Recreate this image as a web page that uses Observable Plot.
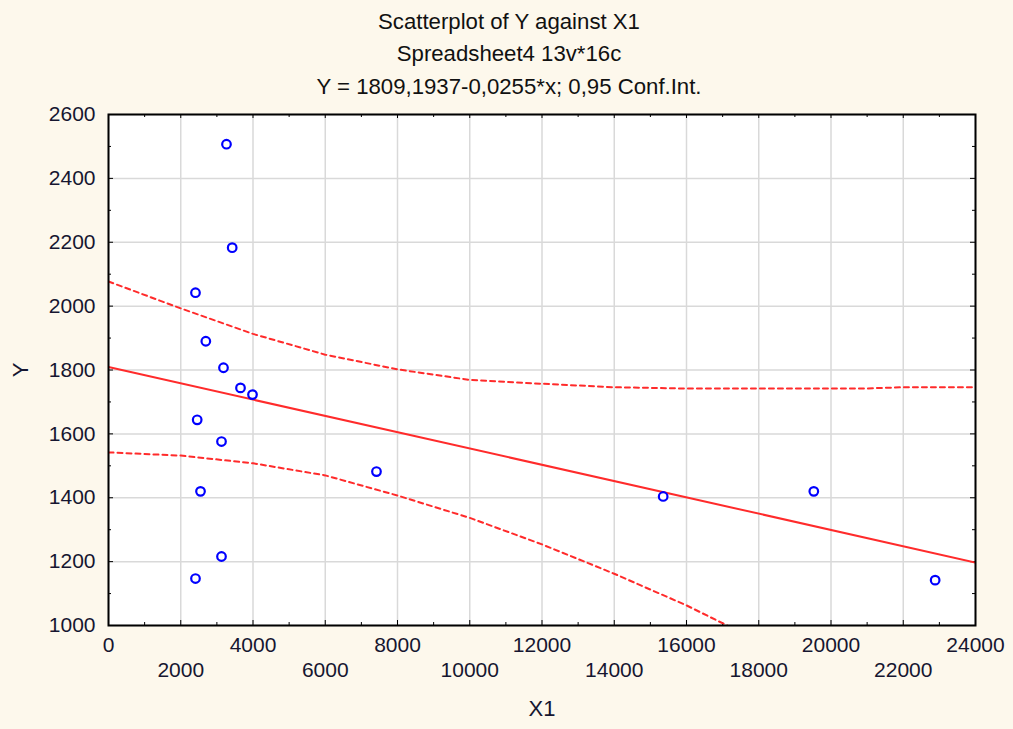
<!DOCTYPE html>
<html>
<head>
<meta charset="utf-8">
<script src="https://cdn.jsdelivr.net/npm/d3@7"></script>
<script src="https://cdn.jsdelivr.net/npm/@observablehq/plot@0.6"></script>
<style>
  html, body { margin: 0; padding: 0; background: #fdf8ec; }
  #chart svg { display: block; }
</style>
</head>
<body>
<div id="chart"></div>
<script>
// --- data ---
const xValues = [3266, 3424, 2408, 2694, 3183, 3654, 3986, 2455, 3128, 2547, 3128, 2408, 7418, 15354, 19524, 22883];
const yValues = [2507, 2183, 2042, 1890, 1807, 1744, 1723, 1644, 1576, 1420, 1216, 1147, 1482, 1404, 1420, 1142];

const fitX = [0, 24000];
const fitY = [1809.19, 1197.19];

const upperX = [0, 2000, 4000, 6000, 8000, 10000, 11800, 12000, 14000, 16000, 18000, 20000, 20900, 22000, 24000];
const upperY = [2077, 1993, 1913, 1848, 1802, 1769, 1758, 1757, 1746, 1742, 1742, 1742, 1742, 1746, 1746];

const lowerX = [0, 2000, 4000, 6000, 8000, 10000, 12000, 14000, 16000, 17125];
const lowerY = [1542, 1532, 1508, 1470, 1407, 1337, 1254, 1162, 1063, 1000];

const xMajor = [0, 2000, 4000, 6000, 8000, 10000, 12000, 14000, 16000, 18000, 20000, 22000, 24000];
const xMinor = [1000, 3000, 5000, 7000, 9000, 11000, 13000, 15000, 17000, 19000, 21000, 23000];
const xLabelsRow1 = [0, 4000, 8000, 12000, 16000, 20000, 24000];
const xLabelsRow2 = [2000, 6000, 10000, 14000, 18000, 22000];
const yMajor = [1000, 1200, 1400, 1600, 1800, 2000, 2200, 2400, 2600];
const yMinor = [1100, 1300, 1500, 1700, 1900, 2100, 2300, 2500];

const titleLines = ["Scatterplot of Y against X1", "Spreadsheet4 13v*16c", "Y = 1809,1937-0,0255*x; 0,95 Conf.Int."];

// --- build ---
const points = xValues.map((x, i) => ({x, y: yValues[i]}));
const fit = fitX.map((x, i) => ({x, y: fitY[i]}));
const upper = upperX.map((x, i) => ({x, y: upperY[i]}));
const lower = lowerX.map((x, i) => ({x, y: lowerY[i]}));

const W = 1013, H = 729, mT = 114, mB = 104, mL = 108, mR = 38;
const plotH = H - mT - mB, plotW = W - mL - mR;
const fmt = d => String(d);
const tickColor = "#161630";
const red = "#ff2b2b";
const titleDx = -33;

const chart = Plot.plot({
  width: W, height: H,
  marginTop: mT, marginBottom: mB, marginLeft: mL, marginRight: mR,
  x: {domain: [0, 24000], axis: null},
  y: {domain: [1000, 2600], axis: null},
  style: {fontFamily: "'Liberation Sans', Arial, sans-serif", background: "#fdf8ec", overflow: "visible"},
  marks: [
    Plot.frame({fill: "white", stroke: null}),
    Plot.gridX(xMajor, {stroke: "#d9d9d9", strokeOpacity: 1, strokeWidth: 1.5}),
    Plot.gridY(yMajor, {stroke: "#d9d9d9", strokeOpacity: 1, strokeWidth: 1.5}),
    // ticks on all four sides (inward)
    Plot.tickX(xMajor, {x: d => d, insetTop: plotH - 5, stroke: "#000"}),
    Plot.tickX(xMinor, {x: d => d, insetTop: plotH - 3, stroke: "#000"}),
    Plot.tickX(xMajor, {x: d => d, insetBottom: plotH - 4, stroke: "#000"}),
    Plot.tickX(xMinor, {x: d => d, insetBottom: plotH - 3, stroke: "#000"}),
    Plot.tickY(yMajor, {y: d => d, insetRight: plotW - 5, stroke: "#000"}),
    Plot.tickY(yMinor, {y: d => d, insetRight: plotW - 3, stroke: "#000"}),
    Plot.tickY(yMajor, {y: d => d, insetLeft: plotW - 5, stroke: "#000"}),
    Plot.tickY(yMinor, {y: d => d, insetLeft: plotW - 3, stroke: "#000"}),
    // confidence bands and fit
    Plot.line(upper, {x: "x", y: "y", stroke: red, strokeWidth: 2, strokeDasharray: "5,4", clip: true}),
    Plot.line(lower, {x: "x", y: "y", stroke: red, strokeWidth: 2, strokeDasharray: "5,4", clip: true}),
    Plot.line(fit, {x: "x", y: "y", stroke: red, strokeWidth: 2, clip: true}),
    // points
    Plot.dot(points, {x: "x", y: "y", r: 4.3, stroke: "#0000ff", strokeWidth: 2.2, fill: "white"}),
    Plot.frame({stroke: "#000", strokeWidth: 2}),
    // axes labels
    Plot.axisY(yMajor, {tickSize: 0, tickPadding: 13, tickFormat: fmt, fontSize: 21, fill: tickColor, label: null}),
    Plot.axisX(xLabelsRow1, {tickSize: 0, tickPadding: 12, tickFormat: fmt, fontSize: 21, fill: tickColor, label: null}),
    Plot.axisX(xLabelsRow2, {tickSize: 0, tickPadding: 37, tickFormat: fmt, fontSize: 21, fill: tickColor, label: null}),
    Plot.text(["Y"], {frameAnchor: "left", dx: -88, rotate: -90, textAnchor: "middle", lineAnchor: "middle", fontSize: 22, fill: tickColor, text: d => d}),
    Plot.text(["X1"], {frameAnchor: "bottom", dy: 83, textAnchor: "middle", lineAnchor: "middle", fontSize: 22, fill: tickColor, text: d => d}),
    // titles
    Plot.text([titleLines[0]], {frameAnchor: "top", dx: titleDx, dy: -93, lineAnchor: "middle", fontSize: 22.2, fill: "#111", text: d => d}),
    Plot.text([titleLines[1]], {frameAnchor: "top", dx: titleDx, dy: -61, lineAnchor: "middle", fontSize: 22.2, fill: "#111", text: d => d}),
    Plot.text([titleLines[2]], {frameAnchor: "top", dx: titleDx, dy: -28, lineAnchor: "middle", fontSize: 22.2, fill: "#111", text: d => d})
  ]
});
document.getElementById("chart").appendChild(chart);
</script>
</body>
</html>
